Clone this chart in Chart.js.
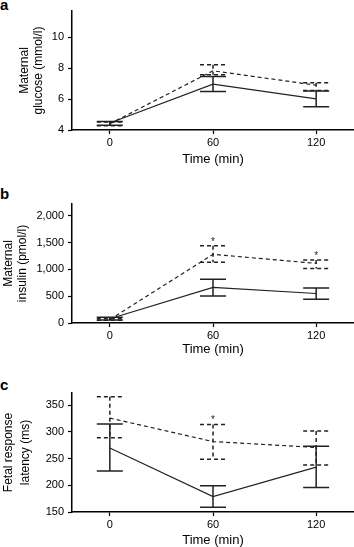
<!DOCTYPE html>
<html>
<head>
<meta charset="utf-8">
<script src="https://cdn.jsdelivr.net/npm/chart.js@4.4.0/dist/chart.umd.min.js"></script>
<style>
  html, body { margin: 0; padding: 0; background: #fff; overflow: hidden; }
  body { width: 354px; height: 547px; position: relative; }
  canvas { position: absolute; left: 0; }
  .lbl { position: absolute; left: 0; font: bold 15px "Liberation Sans", Arial, sans-serif; line-height: 15px; color: #000; }
</style>
</head>
<body>
<div class="lbl" style="top:-3px">a</div>
<div class="lbl" style="top:186px">b</div>
<div class="lbl" style="top:377px">c</div>
<canvas id="chartA" width="354" height="180" style="top:0px"></canvas>
<canvas id="chartB" width="354" height="180" style="top:180px"></canvas>
<canvas id="chartC" width="354" height="190" style="top:360px"></canvas>
<script>
var times = [0, 60, 120];
var xTicks = [0, 60, 120];

// a: maternal glucose (mmol/l)
var glucoseSolid = [4.45, 6.97, 6.01];
var glucoseSolidLo = [4.3, 6.49, 5.51];
var glucoseSolidHi = [4.55, 7.46, 6.53];
var glucoseDashed = [4.4, 7.83, 6.9];
var glucoseDashedLo = [4.28, 7.57, 6.55];
var glucoseDashedHi = [4.52, 8.22, 7.05];
var glucoseTicks = [4, 6, 8, 10];

// b: maternal insulin (pmol/l)
var insulinSolid = [80, 663, 550];
var insulinSolidLo = [55, 506, 444];
var insulinSolidHi = [105, 818, 655];
var insulinDashed = [65, 1281, 1112];
var insulinDashedLo = [50, 1131, 1019];
var insulinDashedHi = [90, 1442, 1174];
var insulinStars = ['', '*', '*'];
var insulinTicks = [0, 500, 1000, 1500, 2000];

// c: fetal response latency (ms)
var latencySolid = [270, 179, 234];
var latencySolidLo = [227, 159, 196];
var latencySolidHi = [315, 199, 273];
var latencyDashed = [326, 282, 271];
var latencyDashedLo = [289, 249, 238];
var latencyDashedHi = [366, 314, 302];
var latencyStars = ['', '*', ''];
var latencyTicks = [150, 200, 250, 300, 350];

var FONT = '"Liberation Sans", Arial, sans-serif';
var INK = '#222';

function pts(vals) {
  return times.map(function(t, i) { return { x: t, y: vals[i] }; });
}

var errorBars = {
  id: 'errorBars',
  afterDatasetsDraw: function(chart) {
    var ctx = chart.ctx;
    var xs = chart.scales.x, ys = chart.scales.y;
    chart.data.datasets.forEach(function(ds) {
      ctx.save();
      ctx.strokeStyle = INK;
      ctx.fillStyle = INK;
      ctx.lineWidth = 1.5;
      ctx.setLineDash(ds.borderDash || []);
      ds.data.forEach(function(p, i) {
        var px = xs.getPixelForValue(p.x);
        var top = ys.getPixelForValue(ds.hi[i]);
        var bot = ys.getPixelForValue(ds.lo[i]);
        ctx.beginPath();
        ctx.moveTo(px, top); ctx.lineTo(px, bot);
        ctx.moveTo(px - 13, top); ctx.lineTo(px + 13, top);
        ctx.moveTo(px - 13, bot); ctx.lineTo(px + 13, bot);
        ctx.stroke();
        if (ds.stars && ds.stars[i]) {
          ctx.font = '10px ' + FONT;
          ctx.textAlign = 'center';
          ctx.textBaseline = 'alphabetic';
          ctx.fillText(ds.stars[i], px, top - 1);
        }
      });
      ctx.restore();
    });
  }
};

function makeChart(id, o) {
  return new Chart(document.getElementById(id), {
    type: 'line',
    data: {
      datasets: [
        { data: pts(o.solid), lo: o.solidLo, hi: o.solidHi,
          borderColor: INK, borderWidth: 1.2, pointRadius: 0, tension: 0 },
        { data: pts(o.dashed), lo: o.dashedLo, hi: o.dashedHi, stars: o.stars,
          borderColor: INK, borderWidth: 1.2, borderDash: [4, 3], pointRadius: 0, tension: 0 }
      ]
    },
    options: {
      responsive: false,
      animation: false,
      devicePixelRatio: 1,
      layout: { padding: { top: o.padTop, bottom: o.padBottom, left: 0, right: 0 } },
      plugins: { legend: { display: false }, tooltip: { enabled: false } },
      scales: {
        x: {
          type: 'linear', min: -22, max: 142,
          afterBuildTicks: function(s) { s.ticks = xTicks.map(function(v) { return { value: v }; }); },
          afterFit: function(s) { s.height = o.xHeight; },
          grid: { drawOnChartArea: false, drawTicks: true, tickLength: 4, color: '#000', tickWidth: 1.2 },
          border: { display: true, color: '#000', width: 1.5 },
          ticks: { color: '#000', font: { family: FONT, size: 11 }, padding: 2, maxRotation: 0, autoSkip: false },
          title: { display: true, text: 'Time (min)', color: '#000', font: { family: FONT, size: 13 }, padding: 0 }
        },
        y: {
          type: 'linear', min: o.yMin, max: o.yMax,
          afterBuildTicks: function(s) { s.ticks = o.yTicks.map(function(v) { return { value: v }; }); },
          afterFit: function(s) { s.width = 72; },
          grid: { drawOnChartArea: false, drawTicks: true, tickLength: 4, color: '#000', tickWidth: 1.2 },
          border: { display: true, color: '#000', width: 1.5 },
          ticks: { color: '#000', font: { family: FONT, size: 11 }, padding: 4,
                   callback: function(v) { return v.toLocaleString('en-US'); } },
          title: { display: true, text: o.yTitle, color: '#000',
                   font: { family: FONT, size: 12, lineHeight: o.titleLH }, padding: { top: o.titlePad, bottom: 0 } }
        }
      }
    },
    plugins: [errorBars]
  });
}

makeChart('chartA', {
  solid: glucoseSolid, solidLo: glucoseSolidLo, solidHi: glucoseSolidHi,
  dashed: glucoseDashed, dashedLo: glucoseDashedLo, dashedHi: glucoseDashedHi,
  yMin: 4, yMax: 11.7, yTicks: glucoseTicks,
  yTitle: ['Maternal', 'glucose (mmol/l)'], titleLH: 1.15, titlePad: 18,
  padTop: 11, padBottom: 13, xHeight: 37
});

makeChart('chartB', {
  solid: insulinSolid, solidLo: insulinSolidLo, solidHi: insulinSolidHi,
  dashed: insulinDashed, dashedLo: insulinDashedLo, dashedHi: insulinDashedHi, stars: insulinStars,
  yMin: 0, yMax: 2220, yTicks: insulinTicks,
  yTitle: ['Maternal', 'insulin (pmol/l)'], titleLH: 1.2, titlePad: 1,
  padTop: 24, padBottom: 3, xHeight: 34
});

makeChart('chartC', {
  solid: latencySolid, solidLo: latencySolidLo, solidHi: latencySolidHi,
  dashed: latencyDashed, dashedLo: latencyDashedLo, dashedHi: latencyDashedHi, stars: latencyStars,
  yMin: 150, yMax: 373, yTicks: latencyTicks,
  yTitle: ['Fetal response', 'latency (ms)'], titleLH: 1.45, titlePad: 0,
  padTop: 33, padBottom: 1.5, xHeight: 36.5
});
</script>
</body>
</html>
